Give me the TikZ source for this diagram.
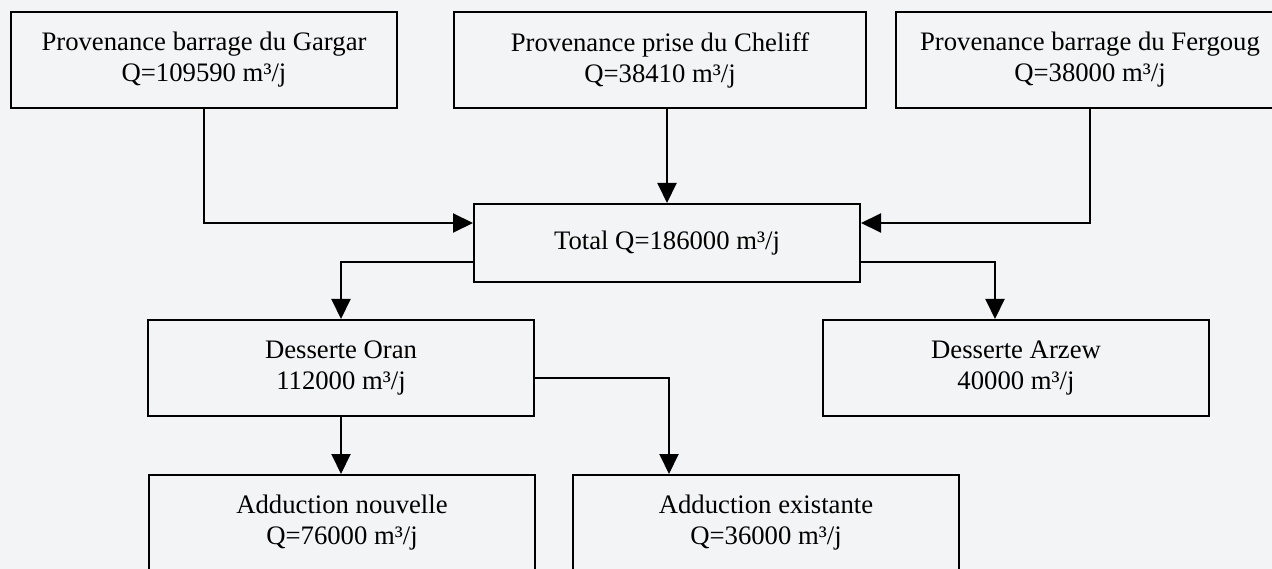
\documentclass[tikz,border=0pt]{standalone}
\usepackage{fontspec}
\setmainfont{Liberation Serif}
\usetikzlibrary{arrows.meta,calc}
\definecolor{paper}{RGB}{243,244,246}
\begin{document}
\begin{tikzpicture}[x=1pt,y=-1pt,line width=2pt,
		font=\fontsize{26.7}{31}\selectfont,
		box/.style={draw,align=center,inner sep=0pt,minimum width=386pt,minimum height=96pt},
		arr/.style={-{Triangle[width=19pt,length=20pt]}}]
		\fill[paper] (0,0) rectangle (1272,569);
		\useasboundingbox (0,0) rectangle (1272,569);

		\node[box] (garg) at (204,60) {Provenance barrage du Gargar\\Q=109590 m³/j};
		\node[box, minimum width=412pt] (chel) at (660,60) {Provenance prise du Cheliff\\Q=38410 m³/j};
		\node[box, minimum width=388pt] (ferg) at (1090,60) {Provenance barrage du Fergoug\\Q=38000 m³/j};

		\node[box, minimum height=78pt] (total) at (667,243) {Total Q=186000 m³/j};

		\node[box] (oran) at (341,368) {Desserte Oran\\112000 m³/j};
		\node[box] (arzew) at (1016,368) {Desserte Arzew\\40000 m³/j};

		\node[box] (nouv) at (342,523) {Adduction nouvelle\\Q=76000 m³/j};
		\node[box] (exist) at (766,523) {Adduction existante\\Q=36000 m³/j};

		\coordinate (inL) at ($(total.west)+(0,-20)$);
		\coordinate (inR) at ($(total.east)+(0,-20)$);
		\coordinate (outL) at ($(total.west)+(0,19)$);
		\coordinate (outR) at ($(total.east)+(0,19)$);
		\coordinate (arzTop) at ($(arzew.north)+(-21,0)$);
		\coordinate (oranR) at ($(oran.east)+(0,10)$);
		\coordinate (exTop) at ($(exist.north)+(-97,0)$);

		\draw[arr] (garg.south) |- (inL);
		\draw[arr] (chel.south -| total.north) -- (total.north);
		\draw[arr] (ferg.south) |- (inR);
		\draw[arr] (outL) -| (oran.north);
		\draw[arr] (outR) -| (arzTop);
		\draw[arr] (oran.south) -- (oran.south |- nouv.north);
		\draw[arr] (oranR) -| (exTop);
	\end{tikzpicture}
\end{document}
